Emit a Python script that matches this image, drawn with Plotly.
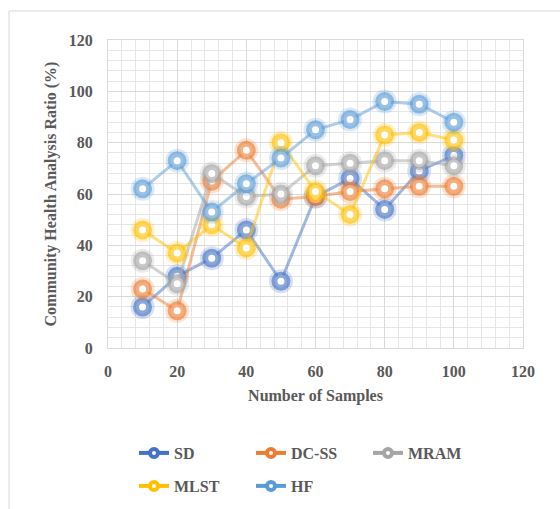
import plotly.graph_objects as go

samples = [10, 20, 30, 40, 50, 60, 70, 80, 90, 100]
sd = [16, 28, 35, 46, 26, 59, 66, 54, 69, 75]
dcss = [23, 14.5, 65, 77, 58, 59, 61, 62, 63, 63]
mram = [34, 25, 68, 59, 60, 71, 72, 73, 73, 71]
mlst = [46, 37, 48, 39, 80, 61, 52, 83, 84, 81]
hf = [62, 73, 53, 64, 74, 85, 89, 96, 95, 88]

series = [
    ("SD", sd, (68, 114, 196)),
    ("DC-SS", dcss, (237, 125, 49)),
    ("MRAM", mram, (165, 165, 165)),
    ("MLST", mlst, (255, 192, 0)),
    ("HF", hf, (91, 155, 213)),
]

FONT = "Liberation Serif"
TXT = "#595959"

fig = go.Figure()

def rgba(c, a):
    return f"rgba({c[0]},{c[1]},{c[2]},{a})"

for name, vals, c in series:
    # soft glow
    fig.add_trace(go.Scatter(
        x=samples, y=vals, mode="markers", showlegend=False, hoverinfo="skip",
        marker=dict(size=24, color=rgba(c, 0.22), line=dict(width=0)),
    ))
    fig.add_trace(go.Scatter(
        x=samples, y=vals, mode="lines+markers", showlegend=False, name=name,
        line=dict(color=rgba(c, 0.5), width=3),
        marker=dict(size=13, color="white", line=dict(color=rgba(c, 0.62), width=6)),
    ))

for i, (name, vals, c) in enumerate(series):
    fig.add_trace(go.Scatter(
        x=[None], y=[None], mode="lines+markers", name=name,
        legend="legend" if i < 3 else "legend2",
        line=dict(color=rgba(c, 1), width=4),
        marker=dict(size=8, color="white", line=dict(color=rgba(c, 1), width=4)),
    ))

L, R, T, B = 108, 37, 40, 161
W, H = 560, 509
pw = W - L - R
ph = H - T - B

def px(xp):
    return (xp - L) / pw

def py(yp):
    return (H - B - yp) / ph

axis_common = dict(
    showgrid=True, gridcolor="#d9d9d9", gridwidth=1,
    showline=True, linecolor="#d9d9d9", linewidth=1, mirror=True,
    zeroline=False, ticks="",
    tickfont=dict(family=FONT, size=16, color=TXT, weight="bold"),
    minor=dict(dtick=4, showgrid=True, gridcolor="#e6e6e6", gridwidth=1),
)

fig.update_xaxes(
    range=[0, 120], dtick=20, tick0=0, ticklabelstandoff=9,
    title=dict(text="Number of Samples", font=dict(family=FONT, size=16, color=TXT, weight="bold"), standoff=10),
    **axis_common,
)
fig.update_yaxes(
    range=[0, 120], dtick=20, tick0=0, ticklabelstandoff=11,
    title=dict(text="Community Health Analysis Ratio (%)", font=dict(family=FONT, size=16, color=TXT, weight="bold"), standoff=8),
    **axis_common,
)

legend_common = dict(
    orientation="h", xanchor="left", yanchor="middle",
    font=dict(family=FONT, size=16, color=TXT, weight="bold"),
    bgcolor="rgba(0,0,0,0)", entrywidth=72, entrywidthmode="pixels",
    itemclick=False, itemdoubleclick=False,
)

fig.update_layout(
    width=W, height=H,
    margin=dict(l=L, r=R, t=T, b=B, autoexpand=False),
    paper_bgcolor="white", plot_bgcolor="white",
    legend=dict(x=px(134), y=py(453), **legend_common),
    legend2=dict(x=px(134), y=py(486), **legend_common),
    shapes=[dict(
        type="rect", xref="paper", yref="paper",
        x0=px(9), x1=px(575), y0=py(525), y1=py(11),
        line=dict(color="#d9d9d9", width=1), fillcolor="rgba(0,0,0,0)", layer="below",
    )],
)

fig.write_html("out.html")
